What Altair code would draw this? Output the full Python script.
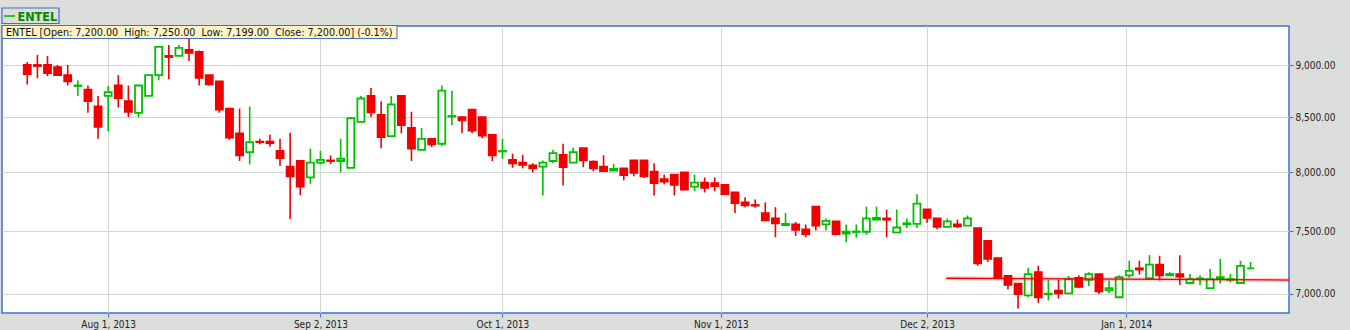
import altair as alt
import pandas as pd

# ---- data ----
opens = [9000, 9000, 9000, 8980, 8900, 8795, 8760, 8600, 8700, 8800,
         8650, 8540, 8700, 8900, 9090, 9090, 9150, 9130, 8900, 8840,
         8580, 8350, 8180, 8275, 8275, 8190, 8050, 8100, 7955, 8085,
         8105, 8100, 8040, 8455, 8700, 8520, 8325, 8700, 8400, 8200,
         8300, 8255, 8505, 8500, 8570, 8500, 8335, 8185, 8110, 8085,
         8060, 8050, 8100, 8155, 8085, 8215, 8095, 8050, 8015, 8035,
         8105, 8105, 8005, 7940, 7980, 8000, 7875, 7910, 7905, 7890,
         7825, 7740, 7718, 7650, 7605, 7550, 7555, 7515, 7705, 7555,
         7580, 7480, 7493, 7495, 7595, 7605, 7490, 7555, 7560, 7680,
         7605, 7535, 7555, 7545, 7525, 7420, 7280, 7140, 7080, 6990,
         7170, 6998, 7025, 7005, 7125, 7110, 7155, 7030, 6975, 7145,
         7200, 7120, 7230, 7145, 7155, 7085, 7115, 7045, 7115, 7110,
         7085, 7200]
highs = [9030, 9100, 9090, 9000, 9000, 8850, 8800, 8700, 8795, 8900,
         8800, 8800, 8900, 9180, 9200, 9200, 9290, 9145, 8900, 8840,
         8580, 8580, 8600, 8300, 8340, 8300, 8355, 8110, 8210, 8190,
         8150, 8300, 8500, 8700, 8775, 8650, 8700, 8700, 8550, 8400,
         8300, 8800, 8750, 8500, 8570, 8500, 8335, 8300, 8165, 8155,
         8080, 8105, 8200, 8255, 8220, 8215, 8105, 8150, 8075, 8035,
         8105, 8105, 8080, 7980, 7980, 8000, 7980, 7955, 7955, 7895,
         7825, 7785, 7765, 7740, 7700, 7650, 7575, 7555, 7705, 7605,
         7580, 7555, 7555, 7705, 7705, 7680, 7680, 7605, 7810, 7680,
         7605, 7605, 7595, 7630, 7525, 7420, 7280, 7140, 7080, 7205,
         7220, 7110, 7110, 7140, 7145, 7170, 7155, 7105, 7145, 7260,
         7260, 7305, 7300, 7170, 7305, 7155, 7145, 7195, 7275, 7155,
         7260, 7250]
lows = [8810, 8870, 8890, 8895, 8800, 8700, 8540, 8300, 8370, 8590,
        8500, 8500, 8700, 8850, 8860, 9090, 9040, 8800, 8800, 8540,
        8290, 8100, 8070, 8250, 8230, 8055, 7600, 7800, 7900, 8070,
        8075, 8000, 8040, 8455, 8500, 8215, 8325, 8350, 8100, 8200,
        8225, 8235, 8425, 8350, 8350, 8305, 8100, 8120, 8040, 8035,
        8000, 7800, 8080, 7885, 8085, 8045, 8010, 8010, 8015, 7930,
        7965, 7950, 7800, 7895, 7800, 7845, 7835, 7825, 7835, 7805,
        7650, 7700, 7695, 7590, 7450, 7550, 7460, 7450, 7505, 7505,
        7465, 7410, 7445, 7470, 7595, 7450, 7490, 7525, 7525, 7570,
        7515, 7535, 7525, 7545, 7220, 7250, 7115, 7035, 6890, 6975,
        6930, 6950, 6965, 7005, 7045, 7060, 7000, 7005, 6975, 7125,
        7150, 7120, 7105, 7145, 7070, 7075, 7070, 7045, 7080, 7090,
        7085, 7199]
closes = [8910, 8990, 8920, 8900, 8840, 8800, 8650, 8410, 8735, 8680,
          8550, 8800, 8900, 9180, 9080, 9170, 9120, 8875, 8810, 8570,
          8310, 8150, 8270, 8270, 8260, 8125, 7965, 7875, 8085, 8110,
          8100, 8120, 8490, 8675, 8545, 8315, 8620, 8425, 8210, 8300,
          8250, 8750, 8510, 8470, 8375, 8330, 8150, 8190, 8080, 8065,
          8035, 8085, 8170, 8045, 8180, 8105, 8035, 8010, 8030, 7975,
          7995, 7965, 7905, 7920, 7890, 7850, 7910, 7865, 7880, 7810,
          7735, 7715, 7713, 7590, 7565, 7560, 7510, 7475, 7545, 7585,
          7475, 7495, 7497, 7605, 7610, 7595, 7530, 7565, 7730, 7610,
          7535, 7580, 7540, 7605, 7240, 7275, 7125, 7070, 7000, 7155,
          6975, 7002, 7005, 7115, 7055, 7155, 7020, 7045, 7130, 7180,
          7190, 7230, 7145, 7155, 7135, 7115, 7120, 7115, 7130, 7115,
          7220, 7200]

# x axis: trading-day index of each date label
tick_idx = [8, 29, 47, 68.6, 89, 108.7]
tick_labels = ["Aug 1, 2013", "Sep 2, 2013", "Oct 1, 2013",
               "Nov 1, 2013", "Dec 2, 2013", "Jan 1, 2014"]
price_ticks = [7000, 7500, 8000, 8500, 9000]

# user-drawn horizontal line
trend_idx = [90.9, 124.8]
trend_val = [7122, 7108]

NB = "\u00a0"
header_text = ("ENTEL [Open: 7,200.00" + NB + NB + "High: 7,250.00" + NB + NB +
               "Low: 7,199.00" + NB + NB + "Close: 7,200.00] (-0.1%)")
legend_text = "ENTEL"

# ---- styling ----
RED = "#f00000"
GREEN = "#00c000"
BLUE = "#3f6fca"
GRID = "#d4d4d4"
BG = "#dcdedb"
FONT = "DejaVu Sans Condensed, DejaVu Sans"

df = pd.DataFrame({"i": list(range(len(opens))), "open": opens,
                   "high": highs, "low": lows, "close": closes})
trend = pd.DataFrame({"i": trend_idx, "v": trend_val})
one = pd.DataFrame({"k": [0]})

lbl_expr = ("[" + ",".join("'%s'" % t for t in tick_labels) + "][indexof(["
            + ",".join(str(v) for v in tick_idx) + "], datum.value)]")

xscale = alt.Scale(domain=[-2.5, 124.8], nice=False, zero=False, padding=0)
yscale = alt.Scale(type="log", domain=[6855.5, 9393.6], nice=False, zero=False, padding=0)

xaxis = alt.Axis(values=tick_idx, labelExpr=lbl_expr, title=None,
                 grid=True, gridColor=GRID, gridWidth=1,
                 domain=False, tickColor=BLUE, tickSize=4, labelPadding=2,
                 labelFont=FONT, labelFontSize=10, labelColor="#222222",
                 labelFlush=False)
yaxis = alt.Axis(values=price_ticks, format=",.2f", orient="right", title=None,
                 grid=True, gridColor=GRID, gridWidth=1,
                 domain=False, tickColor=BLUE, tickSize=4, labelPadding=2,
                 labelFont=FONT, labelFontSize=10, labelColor="#222222")

base = alt.Chart(df).transform_calculate(
    dir="datum.close >= datum.open ? 'up' : 'down'"
)

wick = base.mark_rule(strokeWidth=1.6).encode(
    x=alt.X("i:Q", scale=xscale, axis=xaxis),
    y=alt.Y("low:Q", scale=yscale, axis=yaxis),
    y2="high:Q",
    color=alt.Color("dir:N", scale=alt.Scale(domain=["up", "down"], range=[GREEN, RED]),
                    legend=None),
)

body = base.mark_bar(size=7, strokeWidth=1.8).encode(
    x=alt.X("i:Q", scale=xscale),
    y=alt.Y("open:Q", scale=yscale),
    y2="close:Q",
    fill=alt.Fill("dir:N", scale=alt.Scale(domain=["up", "down"], range=["white", RED]),
                  legend=None),
    stroke=alt.Stroke("dir:N", scale=alt.Scale(domain=["up", "down"], range=[GREEN, RED]),
                      legend=None),
)

halo = alt.Chart(trend).mark_line(color=RED, strokeWidth=4, opacity=0.2, clip=True).encode(
    x=alt.X("i:Q", scale=xscale), y=alt.Y("v:Q", scale=yscale))
tline = alt.Chart(trend).mark_line(color=RED, strokeWidth=1.3, clip=True).encode(
    x=alt.X("i:Q", scale=xscale), y=alt.Y("v:Q", scale=yscale))

hdr_box = alt.Chart(one).mark_rect(fill="#fff3c6", stroke=BLUE, strokeWidth=1).encode(
    x=alt.value(0), x2=alt.value(395), y=alt.value(-0.5), y2=alt.value(12.5))
hdr_txt = alt.Chart(one).mark_text(align="left", baseline="alphabetic", font=FONT,
                                   fontSize=10.7, color="#111111", text=header_text).encode(
    x=alt.value(4), y=alt.value(9.8))

leg_box = alt.Chart(one).mark_rect(fill=BG, stroke=BLUE, strokeWidth=1.2).encode(
    x=alt.value(0), x2=alt.value(57), y=alt.value(-18), y2=alt.value(-2.5))
leg_line = alt.Chart(one).mark_rule(color=GREEN, strokeWidth=1.6).encode(
    x=alt.value(2), x2=alt.value(13), y=alt.value(-10))
leg_txt = alt.Chart(one).mark_text(align="left", baseline="alphabetic", font=FONT,
                                   fontSize=12.5, fontWeight="bold", color="#008a00",
                                   text=legend_text).encode(
    x=alt.value(15.5), y=alt.value(-5))

chart = alt.layer(wick, body, halo, tline, hdr_box, hdr_txt, leg_box, leg_line, leg_txt).properties(
    width=1287, height=287,
    autosize=alt.AutoSizeParams(type="none"),
    padding={"left": 2, "top": 26, "right": 61, "bottom": 17},
    background=BG,
).configure_view(
    fill="white", stroke=BLUE, strokeWidth=1.5
)

chart.save("out.html", embed_options={"renderer": "svg", "actions": False})
